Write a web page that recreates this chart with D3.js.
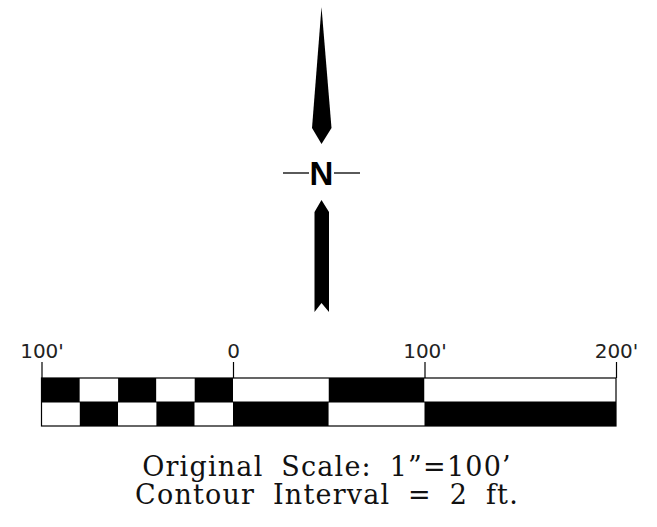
<!DOCTYPE html>
<html>
<head>
<meta charset="utf-8">
<script src="https://cdn.jsdelivr.net/npm/d3@7"></script>
<style>
  body { margin: 0; background: #fff; }
  svg { display: block; }
</style>
</head>
<body>
<svg width="657" height="527"></svg>
<script>
// scale bar ticks (feet) and their labels
const tickValues = [-100, 0, 100, 200];
const tickLabels = ["100'", "0", "100'", "200'"];

// checker cells: [from ft, to ft, top row black?]
const cellStart = [-100, -80, -60, -40, -20, 0, 50, 100];
const cellEnd   = [-80, -60, -40, -20, 0, 50, 100, 200];
const topBlack  = [true, false, true, false, true, false, true, false];

const captionLines = ["Original Scale: 1\u201d=100\u2019", "Contour Interval = 2 ft."];

const svg = d3.select("svg");

const x = d3.scaleLinear().domain([-100, 200]).range([41.5, 616]);
const barTop = 378, rowH = 24;

// top row
svg.selectAll(".top")
   .data(cellStart)
   .enter()
   .append("rect")
   .attr("x", (d) => x(d))
   .attr("y", barTop)
   .attr("width", (d, i) => x(cellEnd[i]) - x(d))
   .attr("height", rowH)
   .attr("fill", (d, i) => topBlack[i] ? "#000" : "#fff");

// bottom row
svg.selectAll(".bottom")
   .data(cellStart)
   .enter()
   .append("rect")
   .attr("x", (d) => x(d))
   .attr("y", barTop + rowH)
   .attr("width", (d, i) => x(cellEnd[i]) - x(d))
   .attr("height", rowH)
   .attr("fill", (d, i) => topBlack[i] ? "#fff" : "#000");

// outline
svg.append("rect")
   .attr("x", x(-100))
   .attr("y", barTop)
   .attr("width", x(200) - x(-100))
   .attr("height", rowH * 2)
   .attr("fill", "none")
   .attr("stroke", "#000")
   .attr("stroke-width", 1.2);

svg.append("line")
   .attr("x1", x(-100)).attr("x2", x(200))
   .attr("y1", barTop + rowH).attr("y2", barTop + rowH)
   .attr("stroke", "#000")
   .attr("stroke-width", 1);

const axis = svg.append("g")
   .attr("transform", `translate(0, ${barTop})`)
   .call(d3.axisTop(x)
           .tickValues(tickValues)
           .tickSize(16)
           .tickPadding(4)
           .tickFormat((d, i) => tickLabels[i]));

axis.select(".domain").remove();
axis.selectAll(".tick line").attr("stroke-width", 1.2);
axis.selectAll(".tick text")
    .attr("fill", "#222")
    .attr("font-family", "'DejaVu Sans', sans-serif")
    .attr("font-size", 20);

// north arrow
const cx = 321.5;
const upper = [[0, 7], [10, 128], [0, 144], [-9.5, 128]];
const lower = [[0, 200], [7.5, 212], [7.5, 312], [0, 303], [-7, 312], [-7, 212]];
const line = d3.line().x((d) => cx + d[0]).y((d) => d[1]);

svg.append("path").attr("d", line(upper) + "Z").attr("fill", "#000");
svg.append("path").attr("d", line(lower) + "Z").attr("fill", "#000");

svg.append("line").attr("x1", 283).attr("x2", 309).attr("y1", 173).attr("y2", 173)
   .attr("stroke", "#000").attr("stroke-width", 1.3);
svg.append("line").attr("x1", 334).attr("x2", 360).attr("y1", 173).attr("y2", 173)
   .attr("stroke", "#000").attr("stroke-width", 1.3);

svg.append("text")
   .attr("x", cx)
   .attr("y", 185)
   .attr("text-anchor", "middle")
   .style("font-family", "'Liberation Sans', Arial, sans-serif")
   .style("font-weight", "bold")
   .style("font-size", "33px")
   .text("N");

// caption
svg.selectAll(".caption")
   .data(captionLines)
   .enter()
   .append("text")
   .attr("x", 327)
   .attr("y", (d, i) => 476 + i * 28)
   .attr("text-anchor", "middle")
   .style("font-family", "'DejaVu Serif', serif")
   .style("font-size", "27px")
   .style("letter-spacing", "1.2px")
   .style("word-spacing", "8px")
   .attr("fill", "#111")
   .text((d) => d);
</script>
</body>
</html>
